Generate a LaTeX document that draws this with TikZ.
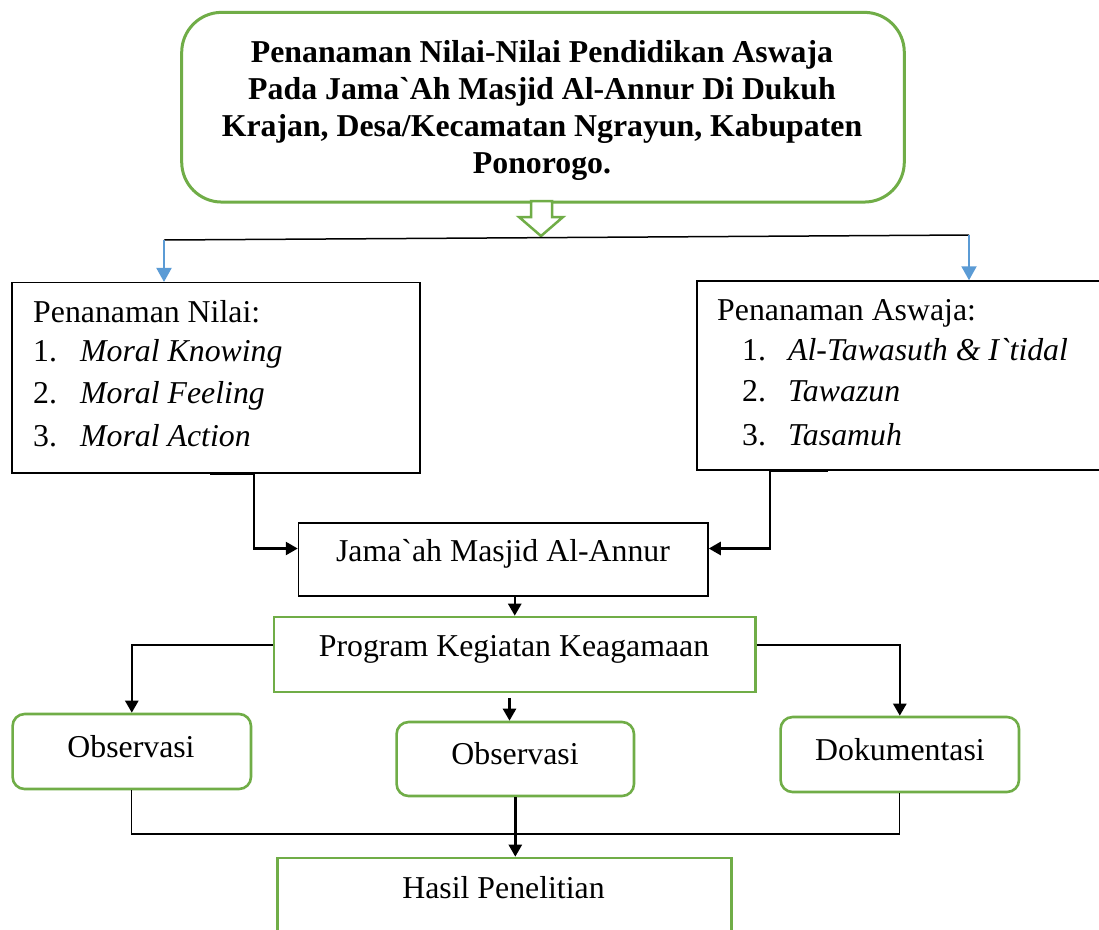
\documentclass[tikz,border=0pt]{standalone}
\usepackage{fontspec}
\setmainfont{Liberation Serif}
\usetikzlibrary{arrows.meta,calc}
\definecolor{grn}{HTML}{70AD47}
\definecolor{blu}{HTML}{5B9BD5}
\begin{document}
\begin{tikzpicture}[x=1pt,y=-1pt,
  txt/.style={inner sep=0pt,font=\fontsize{31.8}{38}\selectfont},
  bbox/.style={draw=black,line width=1.5pt,inner sep=0pt},
  gbox/.style={draw=grn,line width=2.6pt,inner sep=0pt},
  grbox/.style={gbox,rounded corners=12pt},
  conn/.style={draw=black,line width=2.5pt,-{Triangle[length=12pt,width=13pt]}},
  bconn/.style={draw=blu,line width=2pt,-{Triangle[length=14pt,width=15pt]}},
  thinline/.style={draw=black,line width=1.3pt}]
\clip (0,0) rectangle (1099,929);
\fill[white] (0,0) rectangle (1099,929);

% title
\node[draw=grn,line width=3pt,rounded corners=40pt,minimum width=722.6pt,minimum height=189.7pt,inner sep=0pt] (title) at (543,107.2) {};
\node[txt,font=\fontsize{31.8}{37}\selectfont\bfseries,align=center] (titletext) at (542,110)
 {Penanaman Nilai-Nilai Pendidikan Aswaja\\Pada Jama\textasciigrave Ah Masjid Al-Annur Di Dukuh\\Krajan, Desa/Kecamatan Ngrayun, Kabupaten\\Ponorogo.};

% hollow arrow
\draw[grn,line width=2.5pt,fill=white,line join=miter] (531,201) -- (552,201) -- (552,217) -- (563,217) -- (541,236) -- (519,217) -- (531,217) -- cycle;

% boxes
\node[bbox,minimum width=408pt,minimum height=190.3pt] (nilai) at (216,377.85) {};
\node[bbox,minimum width=408pt,minimum height=189pt] (aswaja) at (901,375.5) {};
\node[bbox,minimum width=409.5pt,minimum height=73pt] (jam) at (503.25,559.5) {};
\node[gbox,minimum width=481.5pt,minimum height=75pt] (prog) at (514.75,654.5) {};
\node[grbox,minimum width=238.4pt,minimum height=75pt] (obs1) at (131.8,751.5) {};
\node[grbox,minimum width=237.4pt,minimum height=74pt] (obs2) at (515.3,759) {};
\node[grbox,minimum width=238.4pt,minimum height=75pt] (dok) at (899.8,754.5) {};
\node[gbox,minimum width=454pt,minimum height=92pt] (hasil) at (504.55,904) {};

% texts
\node[txt,anchor=base west] (n0) at (33,322.7) {Penanaman Nilai:};
\node[txt,anchor=base west] (n1a) at (33,361.7) {1.};
\node[txt,anchor=base west] (n1b) at (80,361.7) {\itshape Moral Knowing};
\node[txt,anchor=base west] (n2a) at (33,403.3) {2.};
\node[txt,anchor=base west] (n2b) at (80,403.3) {\itshape Moral Feeling};
\node[txt,anchor=base west] (n3a) at (33,446) {3.};
\node[txt,anchor=base west] (n3b) at (80,446) {\itshape Moral Action};

\node[txt,anchor=base west] (a0) at (717,320) {Penanaman Aswaja:};
\node[txt,anchor=base west] (a1a) at (742,360) {1.};
\node[txt,anchor=base west] (a1b) at (788,360) {\itshape Al-Tawasuth \& I\textasciigrave tidal};
\node[txt,anchor=base west] (a2a) at (742,401.7) {2.};
\node[txt,anchor=base west] (a2b) at (788,401.7) {\itshape Tawazun};
\node[txt,anchor=base west] (a3a) at (742,445) {3.};
\node[txt,anchor=base west] (a3b) at (788,445) {\itshape Tasamuh};

\node[txt,anchor=base] (jamt) at (503,561.7) {Jama\textasciigrave ah Masjid Al-Annur};
\node[txt,anchor=base] (progt) at (514,656.7) {Program Kegiatan Keagamaan};
\node[txt,anchor=base] (obs1t) at (131,757.7) {Observasi};
\node[txt,anchor=base] (obs2t) at (515,764) {Observasi};
\node[txt,anchor=base] (dokt) at (900,760.7) {Dokumentasi};
\node[txt,anchor=base] (hasilt) at (503.5,898.3) {Hasil Penelitian};

% top split line with blue arrows
\coordinate (hl) at (164,240);
\coordinate (hr) at (969,235);
\draw[line width=1.5pt] (hl) -- (hr);
\draw[bconn] (hl) -- (hl |- nilai.north);
\draw[bconn] (hr) -- (hr |- aswaja.north);

% into Jama`ah
\draw[conn] ([xshift=-6pt]nilai.south) -- ++(44,0) |- ([yshift=11pt]jam.west);
\draw[conn] ([xshift=-73pt]aswaja.south) -- ++(-58,0) |- ([yshift=11pt]jam.east);

% Jama`ah to program
\draw[conn] (prog.north |- jam.south) -- (prog.north);

% program to three boxes
\draw[conn] ([yshift=9.5pt]prog.west) -| (obs1.north);
\draw[conn] ([yshift=9.5pt]prog.east) -| (dok.north);
\coordinate (m1) at (509.5,698);
\draw[conn] (m1) -- (m1 |- obs2.north);

% bottom joining line
\coordinate (bl) at (132,834);
\draw[thinline] (obs1.south) -- (obs1.south |- bl) -- (dok.south |- bl) -- (dok.south);
\draw[conn] (obs2.south) -- (obs2.south |- hasil.north);
\end{tikzpicture}
\end{document}
